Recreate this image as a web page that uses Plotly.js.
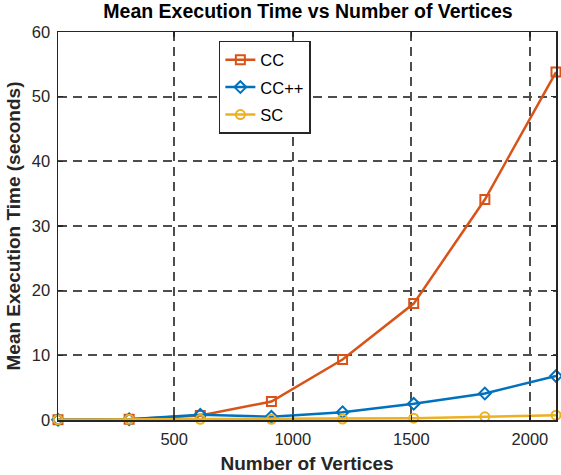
<!DOCTYPE html>
<html>
<head>
<meta charset="utf-8">
<script src="https://cdn.plot.ly/plotly-3.0.1.min.js"></script>
<style>
  body { margin: 0; background: #fff; }
  #chart { width: 561px; height: 475px; }
</style>
</head>
<body>
<div id="chart"></div>
<script>
// number of vertices
var vertices = [10, 310, 610, 910, 1210, 1510, 1810, 2110];

// mean execution time (seconds)
var ccTime = [0.05, 0.1, 0.7, 2.85, 9.35, 18.0, 34.1, 53.8];
var ccppTime = [0.05, 0.1, 0.8, 0.5, 1.2, 2.5, 4.1, 6.8];
var scTime = [0.05, 0.1, 0.1, 0.1, 0.15, 0.28, 0.5, 0.75];

var seriesNames = ['CC', 'CC++', 'SC'];
var seriesColors = ['#D95319', '#0072BD', '#EDB120'];
var seriesSymbols = ['square-open', 'diamond-open', 'circle-open'];
var seriesValues = [ccTime, ccppTime, scTime];

var xTicks = [500, 1000, 1500, 2000];
var yTicks = [0, 10, 20, 30, 40, 50, 60];

var data = [];
for (var i = 0; i < seriesNames.length; i++) {
  data.push({
    x: vertices,
    y: seriesValues[i],
    name: seriesNames[i],
    legendgroup: seriesNames[i],
    type: 'scatter',
    mode: 'lines+markers',
    line: {color: seriesColors[i], width: 2.5},
    marker: {symbol: seriesSymbols[i], size: 9, color: seriesColors[i], line: {width: 2, color: seriesColors[i]}},
    cliponaxis: false
  });
}

var fam = 'Liberation Sans, Arial, sans-serif';
var tickFont = {family: fam, size: 16.5, color: '#262626'};
var labelFont = {family: fam, size: 19, color: '#262626'};

var layout = {
  width: 561,
  height: 475,
  margin: {l: 58, r: 5, t: 32, b: 55},
  paper_bgcolor: '#fff',
  plot_bgcolor: '#fff',
  title: {
    text: '<b>Mean Execution Time vs Number of Vertices</b>',
    font: {family: fam, size: 19.5, color: '#000'},
    x: 0.549, xanchor: 'center', y: 0.99, yanchor: 'top'
  },
  xaxis: {
    range: [10, 2110],
    tickvals: xTicks,
    ticktext: xTicks.map(String),
    ticks: 'inside', ticklen: 5, tickwidth: 1.5, tickcolor: '#262626',
    showline: true, linecolor: '#262626', linewidth: 1.5, mirror: 'ticks',
    showgrid: true, gridcolor: '#4d4d4d', gridwidth: 2, griddash: '9px,6px',
    zeroline: false,
    tickfont: tickFont,
    ticklabelstandoff: 4,
    title: {text: '<b>Number of Vertices</b>', font: labelFont, standoff: 9}
  },
  yaxis: {
    range: [0, 60],
    tickvals: yTicks,
    ticktext: yTicks.map(String),
    ticks: 'inside', ticklen: 5, tickwidth: 1.5, tickcolor: '#262626',
    showline: true, linecolor: '#262626', linewidth: 1.5, mirror: 'ticks',
    showgrid: true, gridcolor: '#4d4d4d', gridwidth: 2, griddash: '9px,6px',
    zeroline: false,
    tickfont: tickFont,
    ticklabelstandoff: 3,
    title: {text: '<b>Mean Execution Time (seconds)</b>', font: labelFont, standoff: 6}
  },
  showlegend: true,
  legend: {
    x: 0.323, xanchor: 'left',
    y: 0.977, yanchor: 'top',
    bgcolor: '#fff',
    bordercolor: '#262626',
    borderwidth: 1.5,
    font: {family: fam, size: 16.5, color: '#000'},
    traceorder: 'grouped',
    tracegroupgap: 3
  }
};

Plotly.newPlot('chart', data, layout, {displayModeBar: false, staticPlot: true});
</script>
</body>
</html>
